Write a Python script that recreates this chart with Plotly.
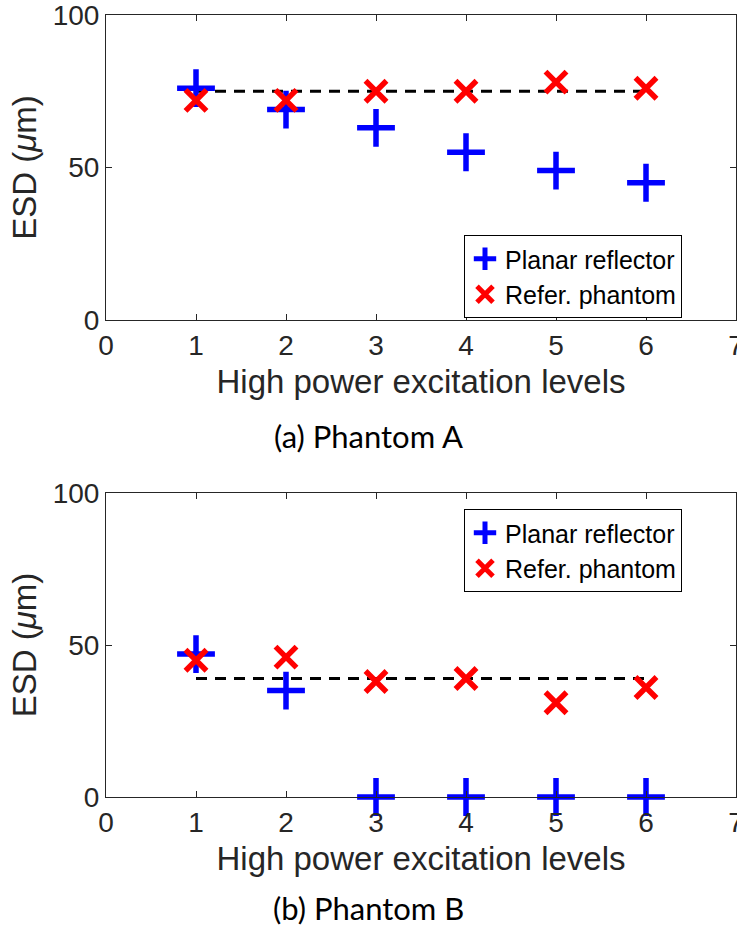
import plotly.graph_objects as go

# Excitation levels on the x axis
levels = [1, 2, 3, 4, 5, 6]

# Phantom A: equivalent spot diameter (um)
planar_a = [76, 69, 63, 55, 49, 45]
refer_a = [72, 72, 75, 75, 78, 76]
ref_mean_a = 75

# Phantom B: equivalent spot diameter (um)
planar_b = [47, 35, 0, 0, 0, 0]
refer_b = [45, 46, 38, 39, 31, 36]
ref_mean_b = 39

x_ticks = [0, 1, 2, 3, 4, 5, 6, 7]
y_ticks = [0, 50, 100]

FONT = "Liberation Sans"
AX_COLOR = "#262626"
W, H = 737, 928

# outer margins (px) and panel edges (px from top)
M_L, M_R, M_T, M_B = 106, 1, 15, 131
A_TOP, A_BOT, B_TOP, B_BOT = 15, 320, 493, 797
PLOT_H = H - M_T - M_B

fig = go.Figure()


def add_panel(planar, refer, ref_mean, xa, ya, legend):
    fig.add_trace(go.Scatter(
        x=[levels[0], levels[-1]], y=[ref_mean, ref_mean],
        mode="lines", line=dict(color="black", width=3, dash="11px,8px"),
        showlegend=False, xaxis=xa, yaxis=ya, hoverinfo="skip"))
    fig.add_trace(go.Scatter(
        x=levels, y=planar, mode="markers", name="Planar reflector",
        marker=dict(symbol="cross-thin", size=27, color="blue",
                    line=dict(color="blue", width=5.5)),
        cliponaxis=False, xaxis=xa, yaxis=ya, legend=legend))
    fig.add_trace(go.Scatter(
        x=levels, y=refer, mode="markers", name="Refer. phantom",
        marker=dict(symbol="x-thin", size=21, color="red",
                    line=dict(color="red", width=5.5)),
        cliponaxis=False, xaxis=xa, yaxis=ya, legend=legend))


add_panel(planar_a, refer_a, ref_mean_a, "x", "y", "legend")
add_panel(planar_b, refer_b, ref_mean_b, "x2", "y2", "legend2")


def frac(px_from_top):
    return (H - M_B - px_from_top) / PLOT_H


axis_common = dict(
    showline=True, linecolor=AX_COLOR, linewidth=1, mirror="allticks",
    ticks="inside", ticklen=6, tickcolor=AX_COLOR, showgrid=False,
    zeroline=False, automargin=False, ticklabeloverflow="allow",
    tickfont=dict(family=FONT, size=28, color=AX_COLOR),
)

xaxis_cfg = dict(axis_common, range=[0, 7], tickvals=x_ticks,
                 title=dict(text="High power excitation levels",
                            font=dict(family=FONT, size=33, color=AX_COLOR),
                            standoff=10))
yaxis_cfg = dict(axis_common, range=[0, 100], tickvals=y_ticks,
                 title=dict(text="ESD (<i>μ</i>m)",
                            font=dict(family=FONT, size=33, color=AX_COLOR),
                            standoff=6))

legend_cfg = dict(
    bgcolor="white", bordercolor="black", borderwidth=1,
    font=dict(family=FONT, size=25, color="black"),
    xanchor="right", yanchor="top", itemwidth=30, tracegroupgap=0,
)

fig.update_layout(
    width=W, height=H, margin=dict(l=M_L, r=M_R, t=M_T, b=M_B),
    paper_bgcolor="white", plot_bgcolor="white",
    xaxis=dict(xaxis_cfg, domain=[0, 1], anchor="y"),
    yaxis=dict(yaxis_cfg, domain=[frac(A_BOT), frac(A_TOP)], anchor="x"),
    xaxis2=dict(xaxis_cfg, domain=[0, 1], anchor="y2"),
    yaxis2=dict(yaxis_cfg, domain=[frac(B_BOT), frac(B_TOP)], anchor="x2"),
    legend=dict(legend_cfg, x=(682 - M_L) / (W - M_L - M_R), y=frac(235)),
    legend2=dict(legend_cfg, x=(682 - M_L) / (W - M_L - M_R), y=frac(509)),
    annotations=[
        dict(text="(a) Phantom A", x=(W / 2 - M_L) / (W - M_L - M_R),
             y=frac(436), xref="paper", yref="paper", showarrow=False,
             xanchor="center", yanchor="middle",
             font=dict(family="Lato", size=31, color="black")),
        dict(text="(b) Phantom B", x=(W / 2 - M_L) / (W - M_L - M_R),
             y=frac(908), xref="paper", yref="paper", showarrow=False,
             xanchor="center", yanchor="middle",
             font=dict(family="Lato", size=31, color="black")),
    ],
)

fig.write_html("out.html")
